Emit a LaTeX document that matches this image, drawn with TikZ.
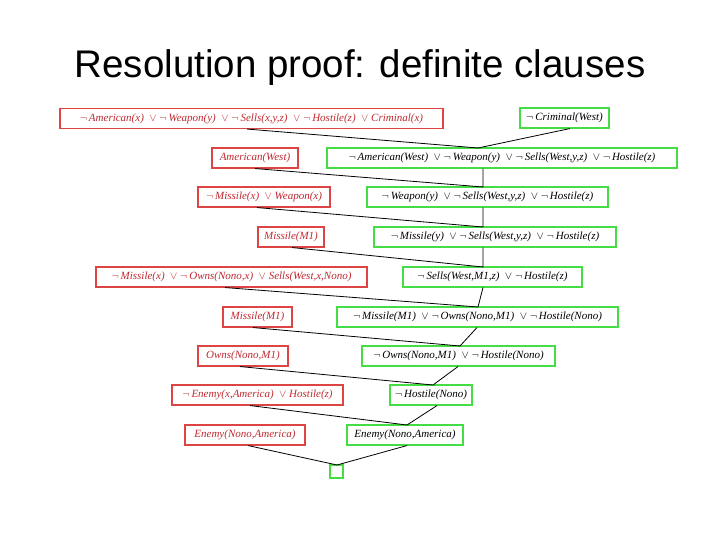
\documentclass[tikz,border=0pt]{standalone}
\usepackage{fontspec}
\setmainfont{Liberation Serif}
\newfontfamily\titlefont{Liberation Sans}
\definecolor{rtext}{HTML}{C0282F}
\definecolor{rline}{HTML}{DD4444}
\definecolor{gline}{HTML}{44DD44}
\newcommand{\N}{$\neg$\,}
\newcommand{\V}{\ \ $\vee$\ }
\begin{document}
\begin{tikzpicture}[x=1pt,y=-1pt,
  cl/.style={inner sep=0pt,minimum height=20pt,font=\fontsize{11}{13}\selectfont\itshape},
  rbox/.style={cl,draw=rline,line width=1.1pt,text=rtext},
  gbox/.style={cl,draw=gline,line width=1.1pt,text=black},
  lk/.style={black,line width=0.8pt}]
\useasboundingbox (0,0) rectangle (720,540);
\node[font=\titlefont\fontsize{38.5}{42}\selectfont] (title) at (360,68) {Resolution proof: definite clauses};
\coordinate (j1) at (478,148);
\coordinate (j2) at (483,187);
\coordinate (j3) at (483,227);
\coordinate (j4) at (483,267);
\coordinate (j5) at (478,307);
\coordinate (j6) at (460,346);
\coordinate (j7) at (433,385);
\coordinate (j8) at (407,425);
\coordinate (j9) at (337,465);
% red
\node[rbox,minimum width=383pt] (r1) at (251.5,118.5) {\N American(x)\V\N Weapon(y)\V\N Sells(x,y,z)\V\N Hostile(z)\V Criminal(x)};
\node[rbox,minimum width=86pt] (r2) at (255,158) {American(West)};
\node[rbox,minimum width=132pt] (r3) at (264,197) {\N Missile(x)\V Weapon(x)};
\node[rbox,minimum width=66pt] (r4) at (291,237) {Missile(M1)};
\node[rbox,minimum width=271pt] (r5) at (231.5,277) {\N Missile(x)\V\N Owns(Nono,x)\V Sells(West,x,Nono)};
\node[rbox,minimum width=69pt] (r6) at (257.5,317) {Missile(M1)};
\node[rbox,minimum width=90pt] (r7) at (243,356) {Owns(Nono,M1)};
\node[rbox,minimum width=171pt] (r8) at (257.5,395) {\N Enemy(x,America)\V Hostile(z)};
\node[rbox,minimum width=120pt] (r9) at (245,435) {Enemy(Nono,America)};
% green
\node[gbox,minimum width=89pt] (g1) at (564.5,118) {\N Criminal(West)};
\node[gbox,minimum width=350pt] (g2) at (502,158) {\N American(West)\V\N Weapon(y)\V\N Sells(West,y,z)\V\N Hostile(z)};
\node[gbox,minimum width=241pt] (g3) at (487.5,197) {\N Weapon(y)\V\N Sells(West,y,z)\V\N Hostile(z)};
\node[gbox,minimum width=242pt] (g4) at (495,237) {\N Missile(y)\V\N Sells(West,y,z)\V\N Hostile(z)};
\node[gbox,minimum width=179pt] (g5) at (492.5,277) {\N Sells(West,M1,z)\V\N Hostile(z)};
\node[gbox,minimum width=281pt] (g6) at (477.5,317) {\N Missile(M1)\V\N Owns(Nono,M1)\V\N Hostile(Nono)};
\node[gbox,minimum width=193pt] (g7) at (458.5,356) {\N Owns(Nono,M1)\V\N Hostile(Nono)};
\node[gbox,minimum width=82pt] (g8) at (431,395) {\N Hostile(Nono)};
\node[gbox,minimum width=116pt] (g9) at (405,435) {Enemy(Nono,America)};
\node[gbox,minimum width=13pt,minimum height=13pt] (g10) at (336.5,471.5) {};
% links
\draw[lk] (r1.south -| 247,0) -- (j1) -- (g1.south -| 570,0);
\draw[lk] (r2.south -| 255,0) -- (j2) -- (g2.south -| 483,0);
\draw[lk] (r3.south -| 257,0) -- (j3) -- (g3.south -| 483,0);
\draw[lk] (r4.south -| 292,0) -- (j4) -- (g4.south -| 483,0);
\draw[lk] (r5.south -| 225,0) -- (j5) -- (g5.south -| 483,0);
\draw[lk] (r6.south -| 253,0) -- (j6) -- (g6.south -| 477,0);
\draw[lk] (r7.south -| 240,0) -- (j7) -- (g7.south -| 458,0);
\draw[lk] (r8.south -| 250,0) -- (j8) -- (g8.south -| 437,0);
\draw[lk] (r9.south -| 248,0) -- (j9) -- (g9.south -| 407,0);
\end{tikzpicture}
\end{document}
